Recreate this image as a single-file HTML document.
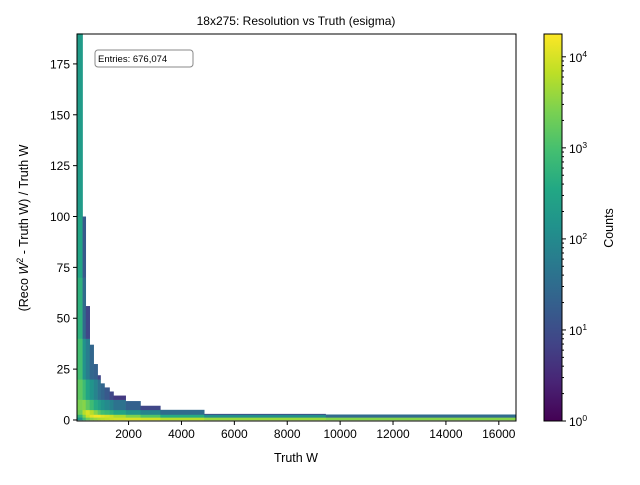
<!DOCTYPE html>
<html><head><meta charset="utf-8"><style>
body{margin:0;background:#fff;font-family:"Liberation Sans","DejaVu Sans",sans-serif}
</style></head><body>
<svg id="c" width="640" height="480" xmlns="http://www.w3.org/2000/svg" font-family="Liberation Sans, DejaVu Sans, sans-serif">
<defs><linearGradient id="vir" x1="0" y1="1" x2="0" y2="0">
<stop offset="0" stop-color="#440154"/><stop offset="0.1" stop-color="#482475"/><stop offset="0.2" stop-color="#414487"/><stop offset="0.3" stop-color="#355f8d"/><stop offset="0.4" stop-color="#2a788e"/><stop offset="0.5" stop-color="#21918c"/><stop offset="0.6" stop-color="#22a884"/><stop offset="0.7" stop-color="#44bf70"/><stop offset="0.8" stop-color="#7ad151"/><stop offset="0.9" stop-color="#bddf26"/><stop offset="1" stop-color="#fde725"/></linearGradient></defs>
<g id="cells"></g>
<g id="axes"></g>
</svg>
<script>
const xEdges=[50,260,380,530,680,830,940,1090,1280,1430,1890,2450,3200,4860,9450,16650];
const yBands=[[0,1.3],[1.3,2.7],[2.7,5],[5,10],[10,20],[20,40],[40,70],[70,100],[100,190]];
const colTop=[190,100,56,37,27.5,22,18,16,14,12,9.3,7,5,3,2.7,1.3];
const colCounts=[
[150,600,2000,2500,1500,900,500,300,200],
[800,2500,6000,3000,800,150,30,15,0],
[2000,8000,10000,1500,300,60,8,0,0],
[3000,12000,6000,800,150,25,0,0,0],
[4000,15000,3000,400,80,20,0,0,0],
[5000,15000,1500,250,40,8,0,0,0],
[6000,12000,900,150,25,0,0,0,0],
[7000,10000,700,100,15,0,0,0,0],
[8000,8000,500,70,8,0,0,0,0],
[9000,5000,300,40,5,0,0,0,0],
[10000,2500,150,20,0,0,0,0,0],
[9000,1200,80,8,0,0,0,0,0],
[6000,400,30,0,0,0,0,0,0],
[4000,120,8,0,0,0,0,0,0],
[3000,30,0,0,0,0,0,0,0],
[1500,0,0,0,0,0,0,0,0]];
const xTicks=[2000,4000,6000,8000,10000,12000,14000,16000];
const yTicks=[0,25,50,75,100,125,150,175];
const cbTicks=[0,1,2,3,4];

const L=77,R=516,T=34,B=421,XMIN=50,XMAX=16650,YMIN=-0.5,YMAX=189.7,VMAX=Math.log10(17800);
const xs=v=>L+(v-XMIN)/(XMAX-XMIN)*(R-L);
const ys=v=>B-(v-YMIN)/(YMAX-YMIN)*(B-T);
const vir=["#440154","#482475","#414487","#355f8d","#2a788e","#21918c","#22a884","#44bf70","#7ad151","#bddf26","#fde725"];
function hex(h){return [1,3,5].map(i=>parseInt(h.substr(i,2),16));}
function color(c){let t=Math.max(0,Math.min(1,Math.log10(c)/VMAX))*10;let i=Math.min(9,Math.floor(t)),f=t-i;
const a=hex(vir[i]),b=hex(vir[i+1]);return "rgb("+a.map((v,k)=>Math.round(v+(b[k]-v)*f)).join(",")+")";}
const NS="http://www.w3.org/2000/svg";
function mk(tag,attrs,parent){const e=document.createElementNS(NS,tag);for(const k in attrs)e.setAttribute(k,attrs[k]);parent.appendChild(e);return e;}
const cells=document.getElementById('cells'),ax=document.getElementById('axes');
colCounts.forEach((cc,i)=>{cc.forEach((c,j)=>{if(c<=0)return;const y0=yBands[j][0],y1=Math.min(yBands[j][1],colTop[i]);if(y1<=y0)return;
const r=mk('rect',{x:xs(xEdges[i]),y:ys(y1),width:xs(xEdges[i+1])-xs(xEdges[i])+0.3,height:ys(y0)-ys(y1)+0.3,fill:color(c)},cells);

});});
const fr=mk('rect',{x:L,y:T,width:R-L,height:B-T,fill:'none',stroke:'#000','stroke-width':1},ax);


xTicks.forEach(v=>{const x=xs(v);mk('line',{x1:x,x2:x,y1:B,y2:B+4,stroke:'#000'},ax);
const t=mk('text',{x:x,y:B+17,'font-size':12,'text-anchor':'middle'},ax);t.textContent=v;

});
yTicks.forEach(v=>{const y=ys(v);mk('line',{x1:L-4,x2:L,y1:y,y2:y,stroke:'#000'},ax);
const t=mk('text',{x:L-7,y:y+4.5,'font-size':12,'text-anchor':'end'},ax);t.textContent=v;

});
const CL=544,CR=562,cy=v=>B-v/VMAX*(B-T);
const cb=mk('rect',{x:CL,y:T,width:CR-CL,height:B-T,fill:'url(#vir)',stroke:'#000','stroke-width':1},ax);


for(let d=0;d<5;d++)for(let m=1;m<10;m++){const v=d+Math.log10(m);if(v>VMAX)break;const y=cy(v);
mk('line',{x1:CR,x2:CR+(m==1?4:2),y1:y,y2:y,stroke:'#000'},ax);}
cbTicks.forEach(d=>{const t=mk('text',{x:CR+7,y:cy(d)+5,'font-size':12},ax);
t.innerHTML='10<tspan font-size="8.5" dy="-5">'+d+'</tspan>';

});
</script>
<svg width="640" height="480" style="position:absolute;left:0;top:0" xmlns="http://www.w3.org/2000/svg" font-family="Liberation Sans, DejaVu Sans, sans-serif">
<text x="296" y="25" font-size="12" text-anchor="middle">18x275: Resolution vs Truth (esigma)</text>
<text x="296" y="462" font-size="12.5" text-anchor="middle">Truth W</text>
<text transform="translate(28,228) rotate(-90)" font-size="12.5" text-anchor="middle">(Reco <tspan font-style="italic">W</tspan><tspan font-size="9" dy="-5">2</tspan><tspan dy="5"> - Truth W) / Truth W</tspan></text>
<text transform="translate(613,228) rotate(-90)" font-size="12.5" text-anchor="middle">Counts</text>
<rect x="95" y="50" width="98" height="17" rx="3" fill="#fff" stroke="#888"/>
<text x="98" y="62" font-size="9.5">Entries: 676,074</text>
</svg>
</body></html>
